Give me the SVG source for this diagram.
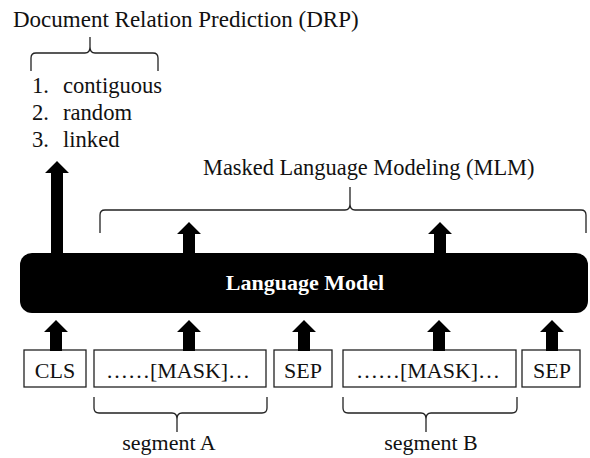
<svg xmlns="http://www.w3.org/2000/svg" width="590" height="458" viewBox="0 0 590 458">
  <style>
    .t { font-family: "Liberation Serif", "Times New Roman", serif; font-size: 22px; fill: #111; }
    .title { font-size: 23px; }
    .mlm-title { font-size: 22.4px; }
    .item { font-size: 22.6px; }
    .lm { font-family: "Liberation Serif", "Times New Roman", serif; font-size: 22px; font-weight: bold; fill: #fff; }
    .brace { fill: none; stroke: #222; stroke-width: 1.3; }
    .tok { fill: #fff; stroke: #222; stroke-width: 1.3; }
    .arrow { fill: #000; }
  </style>
  <defs>
    <!-- block arrow, tip at origin, pointing up -->
    <path id="up" class="arrow" d="M0,0 L12,12 L6,12 L6,31 L-6,31 L-6,12 L-12,12 Z"/>
  </defs>
  <rect width="590" height="458" fill="#fff"/>

  <!-- Document relation prediction head -->
  <g id="drp">
    <text class="t title" x="13" y="27">Document Relation Prediction (DRP)</text>
    <path class="brace" d="M31,71 V58 Q31,53 36,53 H85 Q90,53 90,47 V37 M158,71 V58 Q158,53 153,53 H95 Q90,53 90,47"/>
    <text class="t item" x="32" y="93">1.</text>
    <text class="t item" x="63" y="93">contiguous</text>
    <text class="t item" x="32" y="120">2.</text>
    <text class="t item" x="63" y="120">random</text>
    <text class="t item" x="32" y="147">3.</text>
    <text class="t item" x="63" y="147">linked</text>
  </g>

  <!-- Masked language modeling head -->
  <g id="mlm">
    <text class="t mlm-title" x="203" y="175">Masked Language Modeling (MLM)</text>
    <path class="brace" d="M100,233 V215 Q100,210 105,210 H345 Q350,210 350,204 V187 M586,233 V215 Q586,210 581,210 H355 Q350,210 350,204"/>
  </g>

  <!-- Language model -->
  <g id="language-model">
    <rect x="20" y="253" width="568" height="60" rx="12" ry="12" fill="#000"/>
    <text class="lm" x="305" y="290" text-anchor="middle">Language Model</text>
  </g>

  <!-- Input tokens -->
  <g id="tok-cls">
    <rect class="tok" x="24" y="350" width="62" height="37"/>
    <text class="t" x="55" y="378" text-anchor="middle">CLS</text>
  </g>
  <g id="tok-seg-a">
    <rect class="tok" x="94" y="350" width="172" height="37"/>
    <text class="t" x="178" y="378" text-anchor="middle">……[MASK]…</text>
  </g>
  <g id="tok-sep1">
    <rect class="tok" x="274" y="350" width="58" height="37"/>
    <text class="t" x="303" y="378" text-anchor="middle">SEP</text>
  </g>
  <g id="tok-seg-b">
    <rect class="tok" x="343" y="350" width="173" height="37"/>
    <text class="t" x="428" y="378" text-anchor="middle">……[MASK]…</text>
  </g>
  <g id="tok-sep2">
    <rect class="tok" x="522" y="350" width="58" height="37"/>
    <text class="t" x="552" y="378" text-anchor="middle">SEP</text>
  </g>

  <!-- Segment labels -->
  <g id="seg-a">
    <path class="brace" d="M94,397 V408 Q94,413 99,413 H172 Q177,413 177,419 V432 M267,397 V408 Q267,413 262,413 H182 Q177,413 177,419"/>
    <text class="t" x="169" y="450" text-anchor="middle">segment A</text>
  </g>
  <g id="seg-b">
    <path class="brace" d="M343,397 V408 Q343,413 348,413 H421 Q426,413 426,419 V432 M517,397 V408 Q517,413 512,413 H431 Q426,413 426,419"/>
    <text class="t" x="431" y="450" text-anchor="middle">segment B</text>
  </g>

  <!-- Arrows -->
  <g id="connectors">
    <path class="arrow" d="M57,161 L69,173 L63,173 L63,254 L51,254 L51,173 L45,173 Z"/>
    <use href="#up" x="189" y="222"/>
    <use href="#up" x="440" y="222"/>
    <use href="#up" x="56" y="320"/>
    <use href="#up" x="189" y="320"/>
    <use href="#up" x="304" y="320"/>
    <use href="#up" x="439" y="320"/>
    <use href="#up" x="552" y="320"/>
  </g>
</svg>
